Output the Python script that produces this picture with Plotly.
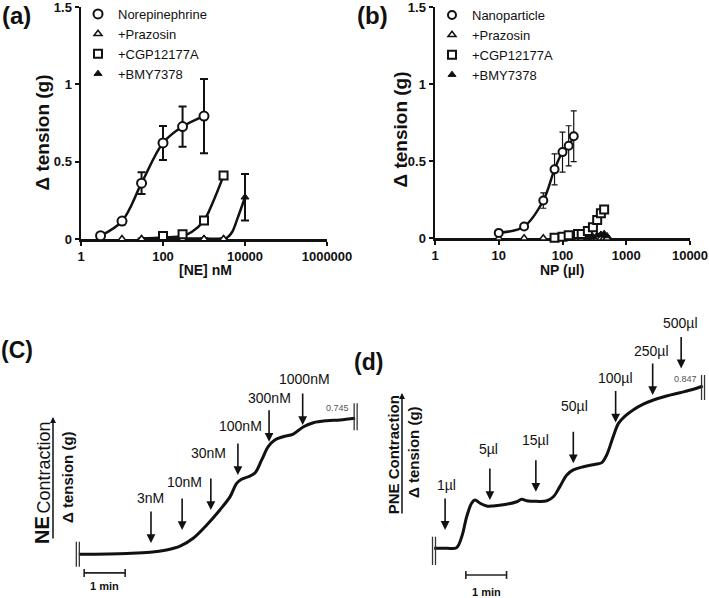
import plotly.graph_objects as go

W, H = 709, 598
FONT = "Arial, 'Liberation Sans', Helvetica, sans-serif"
INK = "#111111"

# ---------------- Panel (a): norepinephrine concentration-response ----------------
ne_dose = [3, 10, 30, 100, 300, 1000]
ne_resp = [0.021, 0.116, 0.361, 0.621, 0.727, 0.795]
ne_err = [0.0, 0.02, 0.07, 0.11, 0.13, 0.24]

praz_a_dose = [3, 10, 30, 100, 300, 1000, 3000]
praz_a_resp = [0, 0, 0, 0, 0, 0, 0]

cgp_a_dose = [100, 300, 1000, 3000]
cgp_a_resp = [0.02, 0.03, 0.12, 0.41]
cgp_a_fit_dose = [30, 100, 300, 500, 1000, 1600, 3000]
cgp_a_fit_resp = [0.003, 0.01, 0.02, 0.045, 0.12, 0.23, 0.41]

bmy_a_dose = [30, 100, 300, 1000, 3000, 10000]
bmy_a_resp = [0.003, 0.003, 0.003, 0.003, 0.003, 0.27]
bmy_a_err = [0, 0, 0, 0, 0, 0.15]
bmy_a_fit_dose = [30, 300, 1000, 3000, 3700, 4900, 6500, 8600, 10000]
bmy_a_fit_resp = [0.003, 0.003, 0.003, 0.003, 0.01, 0.047, 0.13, 0.22, 0.27]

a_xticks = [1, 100, 10000, 1000000]
a_xticktext = ["1", "100", "10000", "1000000"]

# ---------------- Panel (b): nanoparticle concentration-response ----------------
np_dose = [10, 25, 50, 75, 100, 125, 150]
np_resp = [0.035, 0.077, 0.245, 0.447, 0.559, 0.60, 0.662]
np_err = [0, 0, 0.05, 0.10, 0.13, 0.13, 0.165]

praz_b_dose = [10, 25, 50, 75, 100, 125, 150, 175, 200, 250, 300, 350, 400, 450, 500]
praz_b_resp = [0, 0, 0, 0, 0, 0, 0, 0, 0, 0, 0, 0, 0, 0, 0]

cgp_b_dose = [75, 100, 125, 175, 200, 250, 300, 350, 400, 450]
cgp_b_resp = [0.004, 0.01, 0.02, 0.028, 0.028, 0.047, 0.071, 0.118, 0.162, 0.187]

bmy_b_dose = [250, 300, 350, 400, 450, 500]
bmy_b_resp = [0.005, 0.01, 0.02, 0.025, 0.03, 0.015]

b_xticks = [1, 10, 100, 1000, 10000]
b_xticktext = ["1", "10", "100", "1000", "10000"]

y_ticks = [0, 0.5, 1, 1.5]
y_ticktext = ["0", "0.5", "1", "1.5"]

# ---------------- Panel (c): NE contraction trace ----------------
ne_trace_min = [0.02, 1.19, 1.76, 2.16, 2.49, 2.81, 3.14, 3.46, 3.71, 3.87, 3.99, 4.15,
                4.32, 4.48, 4.64, 4.80, 5.00, 5.25, 5.50, 5.74, 6.07, 6.39, 6.76]
ne_trace_g = [0.0, 0.005, 0.011, 0.024, 0.045, 0.088, 0.161, 0.243, 0.316, 0.389, 0.411, 0.425,
              0.447, 0.517, 0.59, 0.626, 0.644, 0.659, 0.699, 0.721, 0.732, 0.736, 0.745]
ne_add_labels = ["3nM", "10nM", "30nM", "100nM", "300nM", "1000nM"]
ne_add_min = [1.78, 2.54, 3.24, 3.90, 4.66, 5.48]
ne_arrow_tip_g = [0.062, 0.133, 0.243, 0.434, 0.617, 0.708]

# ---------------- Panel (d): PNE contraction trace ----------------
pne_trace_min = [0.02, 0.33, 0.57, 0.70, 0.82, 0.94, 1.02, 1.15, 1.31, 1.47, 1.80, 2.05, 2.17,
                 2.29, 2.54, 2.79, 2.95, 3.11, 3.28, 3.44, 3.69, 4.01, 4.14, 4.26, 4.42, 4.55,
                 4.71, 4.91, 5.16, 5.41, 5.73, 6.06, 6.39, 6.62]
pne_trace_g = [0.0, 0.0, 0.003, 0.061, 0.165, 0.235, 0.252, 0.235, 0.221, 0.221, 0.23, 0.243,
               0.256, 0.248, 0.245, 0.248, 0.269, 0.322, 0.383, 0.409, 0.426, 0.44, 0.447, 0.487,
               0.583, 0.652, 0.69, 0.722, 0.752, 0.774, 0.795, 0.812, 0.83, 0.847]
pne_add_labels = ["1µl", "5µl", "15µl", "50µl", "100µl", "250µl", "500µl"]
pne_add_min = [0.29, 1.39, 2.52, 3.44, 4.48, 5.39, 6.09]
pne_arrow_tip_g = [0.096, 0.252, 0.295, 0.444, 0.656, 0.80, 0.939]

scale_minutes = 1.0

# ---------------- layout helpers (pixel -> paper) ----------------
def fx(p):
    return p / W


def fy(p):
    return 1 - p / H


fig = go.Figure()

# ---- panel (a) traces ----
fig.add_trace(go.Scatter(x=ne_dose, y=ne_resp, mode="lines", line=dict(color=INK, width=2.5, shape="spline"),
                         showlegend=False, hoverinfo="skip", xaxis="x", yaxis="y"))
fig.add_trace(go.Scatter(x=cgp_a_fit_dose, y=cgp_a_fit_resp, mode="lines",
                         line=dict(color=INK, width=2.5, shape="spline"),
                         showlegend=False, hoverinfo="skip", xaxis="x", yaxis="y"))
fig.add_trace(go.Scatter(x=bmy_a_fit_dose, y=bmy_a_fit_resp, mode="lines",
                         line=dict(color=INK, width=2.5, shape="spline"),
                         showlegend=False, hoverinfo="skip", xaxis="x", yaxis="y"))

fig.add_trace(go.Scatter(x=bmy_a_dose, y=bmy_a_resp, mode="markers", name="+BMY7378",
                         marker=dict(symbol="triangle-up", size=7, color=INK, line=dict(color=INK, width=1)),
                         error_y=dict(type="data", array=bmy_a_err, color=INK, thickness=2, width=4),
                         cliponaxis=False, xaxis="x", yaxis="y", legend="legend", legendrank=4))
fig.add_trace(go.Scatter(x=praz_a_dose, y=praz_a_resp, mode="markers", name="+Prazosin",
                         marker=dict(symbol="triangle-up", size=7, color="white", line=dict(color=INK, width=1.5)),
                         cliponaxis=False, xaxis="x", yaxis="y", legend="legend", legendrank=2))
fig.add_trace(go.Scatter(x=cgp_a_dose, y=cgp_a_resp, mode="markers", name="+CGP12177A",
                         marker=dict(symbol="square", size=8, color="white", line=dict(color=INK, width=2)),
                         cliponaxis=False, xaxis="x", yaxis="y", legend="legend", legendrank=3))
fig.add_trace(go.Scatter(x=ne_dose, y=ne_resp, mode="markers", name="Norepinephrine",
                         marker=dict(symbol="circle", size=9, color="white", line=dict(color=INK, width=2)),
                         error_y=dict(type="data", array=ne_err, color=INK, thickness=2, width=4),
                         cliponaxis=False, xaxis="x", yaxis="y", legend="legend", legendrank=1))

# ---- panel (b) traces ----
fig.add_trace(go.Scatter(x=np_dose, y=np_resp, mode="lines", line=dict(color=INK, width=2.5, shape="spline"),
                         showlegend=False, hoverinfo="skip", xaxis="x2", yaxis="y2"))
fig.add_trace(go.Scatter(x=praz_b_dose, y=praz_b_resp, mode="markers", name="+Prazosin",
                         marker=dict(symbol="triangle-up", size=7, color="white", line=dict(color=INK, width=1.5)),
                         cliponaxis=False, xaxis="x2", yaxis="y2", legend="legend2", legendrank=2))
fig.add_trace(go.Scatter(x=cgp_b_dose, y=cgp_b_resp, mode="markers", name="+CGP12177A",
                         marker=dict(symbol="square", size=8, color="white", line=dict(color=INK, width=2)),
                         cliponaxis=False, xaxis="x2", yaxis="y2", legend="legend2", legendrank=3))
fig.add_trace(go.Scatter(x=bmy_b_dose, y=bmy_b_resp, mode="markers", name="+BMY7378",
                         marker=dict(symbol="triangle-up", size=7, color=INK, line=dict(color=INK, width=1)),
                         cliponaxis=False, xaxis="x2", yaxis="y2", legend="legend2", legendrank=4))
fig.add_trace(go.Scatter(x=np_dose, y=np_resp, mode="markers", name="Nanoparticle",
                         marker=dict(symbol="circle", size=8, color="white", line=dict(color=INK, width=2)),
                         error_y=dict(type="data", array=np_err, color=INK, thickness=1.2, width=3),
                         cliponaxis=False, xaxis="x2", yaxis="y2", legend="legend2", legendrank=1))

# ---- panel (c) & (d) traces ----
fig.add_trace(go.Scatter(x=ne_trace_min, y=ne_trace_g, mode="lines",
                         line=dict(color=INK, width=3, shape="spline"),
                         showlegend=False, hoverinfo="skip", xaxis="x3", yaxis="y3"))
fig.add_trace(go.Scatter(x=pne_trace_min, y=pne_trace_g, mode="lines",
                         line=dict(color=INK, width=3, shape="spline"),
                         showlegend=False, hoverinfo="skip", xaxis="x4", yaxis="y4"))

# ---------------- axes ----------------
tickfont = dict(family=FONT, size=13, color=INK, weight="bold")
common_x = dict(type="log", showgrid=False, zeroline=False, showline=True, linecolor=INK, linewidth=2.5,
                ticks="outside", ticklen=4, tickwidth=2, tickcolor=INK, tickfont=tickfont,
                layer="below traces", fixedrange=True, ticklabeloverflow="allow", automargin=False)
common_y = dict(range=[0, 1.5], tickmode="array", tickvals=y_ticks, ticktext=y_ticktext, showgrid=False,
                zeroline=False, showline=True, linecolor=INK, linewidth=2.5, ticks="outside", ticklen=4,
                tickwidth=2, tickcolor=INK, tickfont=tickfont, layer="below traces", fixedrange=True,
                ticklabeloverflow="allow", automargin=False)

fig.update_layout(
    xaxis=dict(common_x, domain=[fx(81), fx(327)], range=[0, 6], tickvals=a_xticks, ticktext=a_xticktext,
               anchor="y"),
    yaxis=dict(common_y, domain=[fy(239), fy(7)], anchor="x"),
    xaxis2=dict(common_x, domain=[fx(435), fx(690)], range=[0, 4], tickvals=b_xticks, ticktext=b_xticktext,
                anchor="y2"),
    yaxis2=dict(common_y, domain=[fy(238.3), fy(7)], anchor="x2"),
    xaxis3=dict(domain=[0, fx(360)], range=[(0 - 78) / 41, (360 - 78) / 41], visible=False, anchor="y3"),
    yaxis3=dict(domain=[0, 0.5], range=[(554.3 - 598) / 182.5, (554.3 - 299) / 182.5], visible=False,
                anchor="x3"),
    xaxis4=dict(domain=[fx(380), 1], range=[(380 - 433.3) / 40.7, (709 - 433.3) / 40.7], visible=False,
                anchor="y4"),
    yaxis4=dict(domain=[0, 0.5], range=[(548.3 - 598) / 191.6, (548.3 - 299) / 191.6], visible=False,
                anchor="x4"),
)

legend_common = dict(xanchor="left", yanchor="top", bgcolor="rgba(0,0,0,0)", borderwidth=0,
                     font=dict(family=FONT, size=13, color=INK), tracegroupgap=0, traceorder="normal")
fig.update_layout(
    legend=dict(legend_common, x=fx(78), y=fy(-1)),
    legend2=dict(legend_common, x=fx(432), y=fy(0)),
)

annotations = []
shapes = []


def label(text, x, y, size, bold=True, angle=0, color=INK):
    annotations.append(dict(text=("<b>%s</b>" % text) if bold else text, x=fx(x), y=fy(y),
                            xref="paper", yref="paper", showarrow=False, textangle=angle,
                            font=dict(family=FONT, size=size, color=color),
                            xanchor="center", yanchor="middle"))


# panel letters
label("(a)", 16, 16, 24)
label("(b)", 372, 16, 24)
label("(C)", 17, 350, 23)
label("(d)", 368, 362, 23)

# axis titles for (a), (b)
label("[NE] nM", 205.5, 269.5, 14)
label("NP (µl)", 562, 269.5, 14)
label("Δ tension (g)", 42.5, 133, 19, angle=-90)
label("Δ tension (g)", 400.5, 130, 19, angle=-90)

# y labels for (c), (d)
label("NE", 42, 530, 20, angle=-90)
label("Contraction", 43, 467.5, 18, bold=False, angle=-90)
label("Δ tension (g)", 67.5, 477.5, 15, angle=-90)
label("PNE Contraction", 393.3, 455, 15, angle=-90)
label("Δ tension (g)", 413.3, 451.7, 15, angle=-90)
for (lx, ytop, ybot) in [(53, 417, 540), (402, 393, 515)]:
    annotations.append(dict(text="", x=fx(lx), y=fy(ytop), xref="paper", yref="paper",
                            showarrow=True, ax=0, ay=ybot - ytop, arrowhead=2, arrowsize=0.8,
                            arrowwidth=1.5, arrowcolor=INK, standoff=0))

# addition arrows and labels
ne_label_dx = [0, 2.7, -2, 3, 0, 2]
ne_label_dy = [45, 48, 56.7, 49, 43.3, 45.7]
pne_label_dx = [1.7, -1.7, -0.7, 1, 0, -1, -0.3]
pne_label_dy = [45, 50.7, 51.7, 57.3, 44.4, 44.3, 45]

for (labs, xs, ys, dxs, dys, xr, yr) in [
        (ne_add_labels, ne_add_min, ne_arrow_tip_g, ne_label_dx, ne_label_dy, "x3", "y3"),
        (pne_add_labels, pne_add_min, pne_arrow_tip_g, pne_label_dx, pne_label_dy, "x4", "y4")]:
    for lab, xv, yv, dx, dy in zip(labs, xs, ys, dxs, dys):
        annotations.append(dict(text="", x=xv, y=yv, xref=xr, yref=yr, showarrow=True, ax=0, ay=-33,
                                arrowhead=2, arrowsize=1.1, arrowwidth=1.6, arrowcolor=INK, standoff=0))
        annotations.append(dict(text=lab, x=xv, y=yv, xref=xr, yref=yr, showarrow=False,
                                xshift=dx, yshift=dy, font=dict(family=FONT, size=14, color=INK),
                                xanchor="center", yanchor="middle"))


def double_bar(xr, yr, xa, ya, dxs, ylo, yhi):
    for dx in dxs:
        shapes.append(dict(type="line", xref=xr, yref=yr, xsizemode="pixel", xanchor=xa, x0=dx, x1=dx,
                           ysizemode="pixel", yanchor=ya, y0=ylo, y1=yhi,
                           line=dict(color="#333333", width=1.3)))


double_bar("x3", "y3", ne_trace_min[0], ne_trace_g[0], [-2.5, 0.5], -12.5, 12.5)
double_bar("x3", "y3", ne_trace_min[-1], ne_trace_g[-1], [-1, 2], -12, 15)
double_bar("x4", "y4", pne_trace_min[0], pne_trace_g[0], [-1.6, 1.4], -16.7, 11.6)
double_bar("x4", "y4", pne_trace_min[-1], pne_trace_g[-1], [-1.2, 1.8], -14, 11)

# end value labels
for (xr, yr, tx, ty, dx, dy) in [("x3", "y3", ne_trace_min, ne_trace_g, -4, 10),
                                 ("x4", "y4", pne_trace_min, pne_trace_g, -4, 7)]:
    annotations.append(dict(text="%.3f" % ty[-1], x=tx[-1], y=ty[-1], xref=xr, yref=yr, showarrow=False,
                            xanchor="right", yanchor="middle", xshift=dx, yshift=dy,
                            font=dict(family=FONT, size=9, color="#555555")))

# 1-min scale bars
for (xr, yr, x0, yb, tshift) in [("x3", "y3", 0.15, -0.102, -13), ("x4", "y4", 0.80, -0.139, -16.7)]:
    shapes.append(dict(type="line", xref=xr, yref=yr, x0=x0, x1=x0 + scale_minutes, y0=yb, y1=yb,
                       line=dict(color="#222222", width=1.6)))
    for xe in (x0, x0 + scale_minutes):
        shapes.append(dict(type="line", xref=xr, yref=yr, x0=xe, x1=xe, ysizemode="pixel", yanchor=yb,
                           y0=-4, y1=4, line=dict(color="#222222", width=1.6)))
    annotations.append(dict(text="<b>1 min</b>", x=x0 + scale_minutes / 2, y=yb, xref=xr, yref=yr,
                            showarrow=False, yshift=tshift, font=dict(family=FONT, size=11, color=INK)))

fig.update_layout(
    width=W, height=H,
    margin=dict(l=0, r=0, t=0, b=0, autoexpand=False),
    paper_bgcolor="white", plot_bgcolor="white",
    font=dict(family=FONT, color=INK),
    annotations=annotations, shapes=shapes,
    hovermode=False,
)

fig.write_html("out.html",
               config={"displayModeBar": False, "staticPlot": True},
               post_script="document.body.style.margin='0';document.body.style.overflow='hidden';")
